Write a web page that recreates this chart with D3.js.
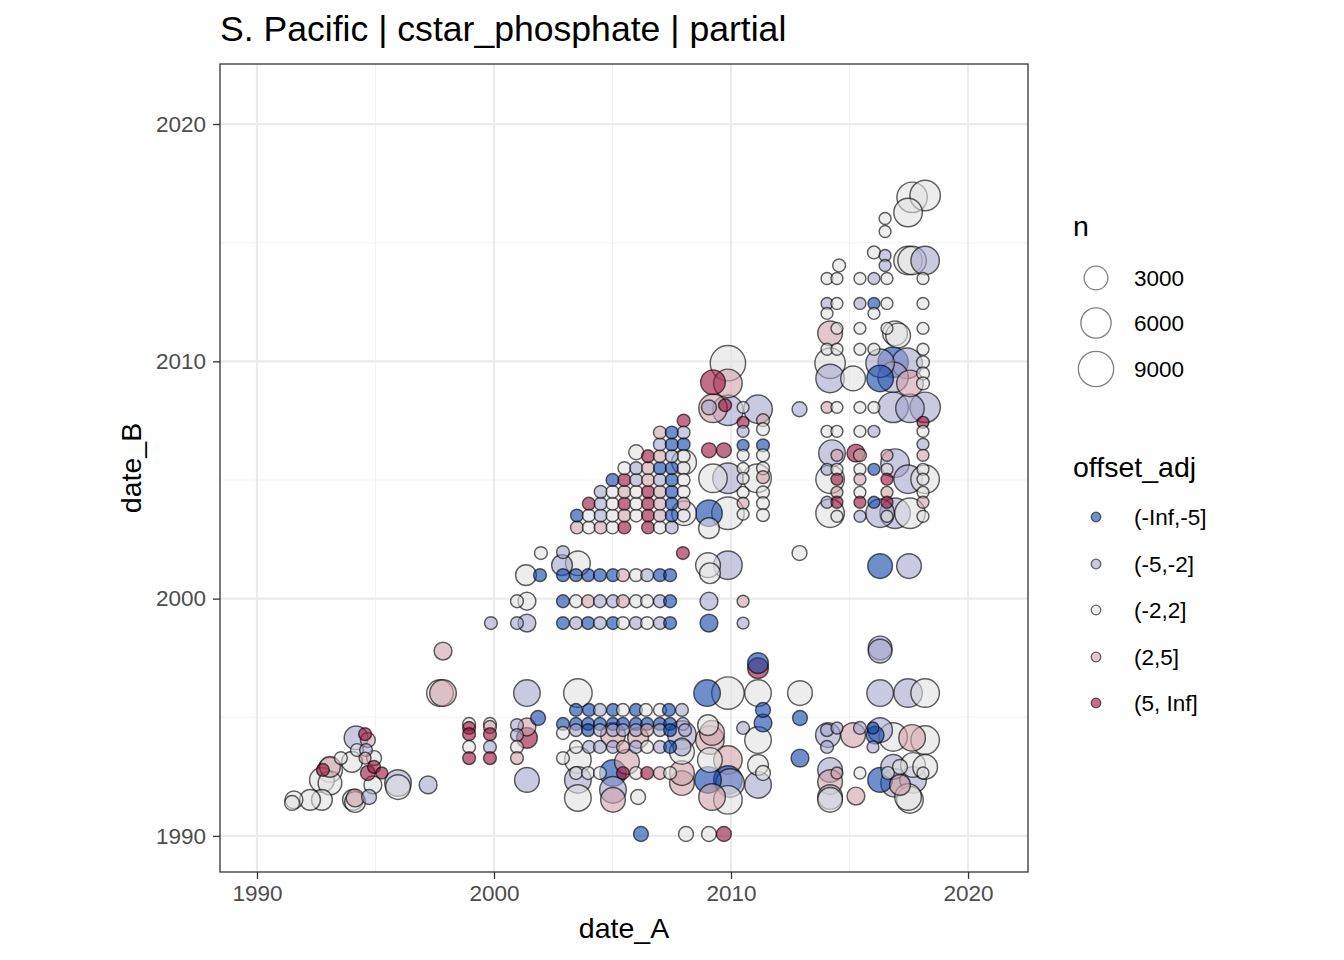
<!DOCTYPE html>
<html><head><meta charset="utf-8">
<script src="https://cdn.jsdelivr.net/npm/d3@7"></script>
<style>body{margin:0;background:#fff} text{font-family:"Liberation Sans",Arial,sans-serif}</style>
</head><body><svg id="c" width="1344" height="960"></svg>
<script>
const chartTitle = "S. Pacific | cstar_phosphate | partial";
const offsetLevels = ["(-Inf,-5]","(-5,-2]","(-2,2]","(2,5]","(5, Inf]"];
const offsetColors = ["#0f44aa","#a5a5cb","#e1e1e1","#cfa3aa","#99113c"];
const sizeBreaks = [3000, 6000, 9000];
const xTicks = [1990, 2000, 2010, 2020];
const yTicks = [1990, 2000, 2010, 2020];
const minorTicks = [1995, 2005, 2015];
// [date_A, date_B, n, offset level index]
const points = [
[1997.85,1997.79,1200,3],[1997.72,1996.02,4200,2],[1997.85,1996.02,4200,3],
[1998.95,1994.72,300,2],[1998.95,1994.55,300,4],[1998.95,1994.29,300,4],[1998.95,1993.75,300,2],[1998.95,1993.28,300,4],
[1999.83,1994.72,300,2],[1999.83,1994.59,300,3],[1999.83,1994.29,300,4],[1999.83,1993.75,300,1],[1999.83,1993.28,300,4],
[1994.18,1994.13,3000,1],[1994.56,1994.29,300,4],[1994.68,1994.04,600,3],[1994.22,1993.62,300,2],[1994.60,1993.62,300,1],
[1994.56,1993.28,200,3],[1994.94,1993.28,600,2],[1994.01,1993.12,2000,2],[1993.54,1993.28,300,2],[1993.08,1992.91,2000,3],
[1992.78,1992.78,300,4],[1993.08,1992.78,3400,2],[1992.74,1992.36,3400,2],[1993.08,1992.23,3000,2],[1994.68,1992.65,600,4],
[1994.94,1992.91,300,4],[1995.27,1992.65,200,4],[1994.89,1992.15,1200,2],[1995.95,1992.06,3400,2],[1995.95,1992.23,4200,1],
[1997.22,1992.15,1200,1],[1994.73,1991.64,600,1],[1994.14,1991.60,1200,3],[1994.05,1991.52,2000,2],[1994.14,1991.43,2000,2],
[1992.74,1991.52,2000,2],[1992.24,1991.52,2000,2],[1991.56,1991.52,1200,2],[1991.48,1991.39,600,2],
[2001.39,1996.02,4200,1],[2003.54,1996.02,5100,2],[2001.86,1994.97,600,0],
[2000.97,1994.67,300,1],[2001.39,1994.59,1200,3],[2001.39,1994.13,2000,4],[2000.97,1994.25,300,1],[2000.97,1993.75,300,2],[2000.97,1993.28,300,3],[2001.39,1992.36,3400,1],
[2003.46,1995.31,300,0],[2004.01,1995.31,300,0],[2004.47,1995.31,300,1],[2005.02,1995.31,300,0],[2005.44,1995.31,300,2],
[2005.99,1995.31,300,0],[2006.41,1995.31,300,2],[2007.00,1995.31,300,2],[2007.38,1995.31,300,0],[2007.93,1995.31,300,1],
[2002.91,1994.72,300,0],[2003.46,1994.72,300,0],[2003.97,1994.72,300,0],[2004.47,1994.72,300,0],[2005.02,1994.72,300,0],[2005.44,1994.72,300,0],
[2005.99,1994.72,300,0],[2006.46,1994.72,300,0],[2007.00,1994.72,300,0],[2007.43,1994.72,300,0],[2007.97,1994.72,300,1],
[2002.91,1994.34,300,2],[2003.46,1994.46,300,1],[2003.97,1994.46,300,0],[2004.47,1994.46,300,1],[2005.02,1994.46,300,1],[2005.44,1994.46,300,1],
[2005.99,1994.46,300,1],[2006.46,1994.46,300,3],[2007.00,1994.46,300,1],[2007.43,1994.46,300,0],[2008.06,1994.46,300,1],
[2005.02,1994.25,3400,3],[2006.08,1994.13,2000,3],[2007.93,1994.25,5100,1],[2009.11,1994.04,5100,3],
[2003.46,1993.75,300,2],[2004.01,1993.75,300,1],[2004.47,1993.75,300,1],[2005.02,1993.75,300,1],[2005.44,1993.75,300,3],
[2005.99,1993.75,300,1],[2006.46,1993.75,300,2],[2007.00,1993.75,300,1],[2007.43,1993.75,300,0],[2007.93,1993.75,1200,1],
[2002.91,1993.28,300,2],[2003.54,1993.20,4200,2],[2005.61,1993.12,3400,3],
[2003.46,1992.65,300,2],[2003.97,1992.65,300,2],[2004.47,1992.65,300,2],[2005.44,1992.65,300,4],[2005.99,1992.65,300,2],
[2006.46,1992.65,300,4],[2007.00,1992.65,300,3],[2007.43,1992.65,300,2],[2005.02,1992.65,4200,0],
[2003.54,1992.36,4200,1],[2003.54,1991.60,4200,2],[2005.02,1991.94,4200,1],[2005.02,1991.52,3400,3],[2006.08,1991.64,600,2],
[2007.93,1992.23,3400,3],[2007.93,1992.65,3400,3],[2007.93,1993.54,3400,2],
[2006.20,1990.08,600,0],[2008.10,1990.08,600,2],[2009.07,1990.08,600,2],[2009.70,1990.08,600,4],
[2008.99,1996.02,4200,0],
[2011.14,1997.07,2000,4],[2011.14,1997.28,2000,0],
[2009.87,1996.02,7200,2],[2011.14,1996.02,4200,2],[2012.91,1996.02,3400,2],
[2011.35,1995.31,600,0],[2011.35,1994.76,1200,0],[2012.91,1994.97,600,0],[2010.51,1994.55,300,1],[2011.14,1994.04,4200,2],
[2009.03,1994.67,2000,2],[2009.20,1994.34,3400,3],
[2011.14,1992.99,2000,2],[2011.35,1992.65,600,2],[2011.14,1992.15,4200,1],
[2009.11,1993.20,3400,2],[2009.87,1993.20,5100,3],
[2009.03,1992.36,4200,0],[2009.87,1992.36,5100,0],[2009.96,1992.23,5100,1],
[2009.20,1991.64,4200,3],[2009.87,1991.52,5100,2],
[2012.91,1993.28,1200,0],
[2014.09,1994.25,3400,1],[2014.05,1994.46,300,1],[2014.47,1994.55,200,1],[2014.05,1993.75,300,1],[2015.15,1994.25,3400,3],[2015.44,1994.55,300,1],
[2014.18,1992.78,3400,1],[2014.47,1992.65,200,3],[2014.18,1992.27,3400,3],[2014.18,1991.64,3400,1],[2014.18,1991.52,3400,2],
[2015.44,1992.65,200,2],[2015.27,1991.68,1200,3],
[2016.29,1997.92,3000,1],[2016.29,1997.79,3000,1],
[2016.29,1996.02,4200,1],[2017.47,1996.02,5100,1],[2018.19,1996.02,5100,2],
[2015.99,1994.55,200,0],[2016.29,1994.46,3400,1],[2016.08,1994.25,1200,0],[2016.84,1994.17,5100,2],[2017.64,1994.13,4200,3],[2018.19,1994.04,5100,2],[2015.99,1993.75,200,1],
[2016.29,1992.36,3400,0],[2016.84,1992.91,3400,1],[2017.13,1992.91,600,2],[2017.68,1992.99,3400,2],[2018.19,1992.91,3400,2],[2016.62,1992.65,300,2],[2018.10,1992.65,200,2],
[2016.92,1992.23,5100,1],[2017.13,1992.15,2000,3],[2017.68,1992.36,4200,1],
[2017.55,1991.52,4200,2],[2017.47,1991.64,4200,2],
[2001.98,2001.92,300,2],[2002.91,2001.96,300,1],[2007.97,2001.92,300,4],
[2002.87,2001.41,2000,1],[2003.54,2001.49,3400,2],
[2001.35,2000.99,2000,2],[2001.94,2000.99,300,0],[2002.91,2000.99,300,0],[2003.46,2000.99,300,0],[2003.97,2000.99,300,0],[2004.47,2000.99,300,0],
[2005.02,2000.99,300,0],[2005.44,2000.99,300,3],[2005.99,2000.99,300,2],[2006.46,2000.99,300,1],[2007.00,2000.99,300,0],[2007.43,2000.99,300,0],
[2000.97,1999.89,300,2],[2001.39,1999.89,1200,2],[2002.91,1999.89,300,0],[2003.46,1999.89,300,2],[2003.97,1999.89,300,3],[2004.47,1999.89,300,1],
[2005.02,1999.89,300,1],[2005.44,1999.89,300,3],[2005.99,1999.89,300,2],[2006.46,1999.89,300,2],[2007.00,1999.89,300,1],[2007.43,1999.89,300,0],
[1999.87,1998.97,300,1],[2000.97,1998.97,300,1],[2001.39,1998.97,1200,1],[2002.91,1998.97,300,0],[2003.46,1998.97,300,1],[2003.97,1998.97,300,0],
[2004.47,1998.97,300,1],[2005.02,1998.97,300,0],[2005.44,1998.97,300,2],[2005.99,1998.97,300,1],[2006.46,1998.97,300,2],[2007.00,1998.97,300,1],[2007.43,1998.97,300,0],
[2009.03,2001.41,3400,2],[2009.87,2001.41,5100,1],[2009.11,2001.07,2000,2],
[2009.07,1999.89,1200,1],[2009.07,1998.97,1200,0],[2010.51,1999.89,200,3],[2010.51,1998.97,200,1],
[2012.89,2001.92,600,2],
[2009.87,2009.92,9000,2],[2009.24,2009.12,3400,4],[2009.87,2009.07,5100,3],
[2009.24,2008.02,5100,3],[2009.07,2008.06,600,1],[2009.87,2007.94,6100,1],[2009.75,2008.15,300,4],
[2011.14,2007.98,5100,1],[2012.89,2007.98,600,1],
[2010.51,2008.06,200,2],[2010.51,2007.43,200,4],[2010.51,2007.05,200,1],[2010.51,2006.46,200,0],[2010.51,2006.04,200,2],
[2010.51,2005.49,200,2],[2010.51,2005.07,200,2],[2010.51,2004.48,200,2],[2010.51,2004.02,200,3],[2010.51,2003.56,200,2],
[2011.35,2007.52,300,3],[2011.35,2007.14,300,2],[2011.35,2006.46,300,0],[2011.35,2006.04,300,2],[2011.35,2005.49,300,2],
[2011.35,2005.12,300,3],[2011.35,2004.48,300,2],[2011.35,2004.02,300,2],[2011.35,2003.52,300,2],
[2009.07,2006.25,600,4],[2009.70,2006.25,600,4],
[2009.24,2005.07,5100,2],[2009.87,2005.07,6100,1],[2011.10,2005.07,5100,2],
[2009.07,2003.60,4200,0],[2009.87,2003.60,7200,2],[2009.07,2002.97,2000,2],
[2008.0,2007.5,300,4],[2008.0,2007.0,300,1],[2008.0,2006.5,300,0],[2008.0,2006.0,300,2],[2008.0,2005.5,300,2],
[2008.0,2005.0,300,2],[2008.0,2004.5,300,2],[2008.0,2004.0,300,3],[2008.0,2003.5,300,2],
[2008.02,2003.60,3400,2],[2008.02,2005.75,3400,2],
[2003.5,2003.0,300,3],[2004.0,2003.0,300,2],[2004.5,2003.0,300,3],[2005.0,2003.0,300,2],[2005.5,2003.0,300,4],[2006.5,2003.0,300,4],[2007.0,2003.0,300,2],[2007.5,2003.0,300,1],
[2003.5,2003.5,300,0],[2004.0,2003.5,300,2],[2004.5,2003.5,300,1],[2005.0,2003.5,300,2],[2005.5,2003.5,300,3],[2006.0,2003.5,300,2],[2006.5,2003.5,300,4],[2007.0,2003.5,300,3],[2007.5,2003.5,300,0],
[2004.0,2004.0,300,4],[2004.5,2004.0,300,1],[2005.0,2004.0,300,2],[2005.5,2004.0,300,4],[2006.0,2004.0,300,2],[2006.5,2004.0,300,4],[2007.0,2004.0,300,3],[2007.5,2004.0,300,0],
[2004.5,2004.5,300,1],[2005.0,2004.5,300,2],[2005.5,2004.5,300,3],[2006.0,2004.5,300,2],[2006.5,2004.5,300,4],[2007.0,2004.5,300,3],[2007.5,2004.5,300,0],
[2005.0,2005.0,300,0],[2005.5,2005.0,300,4],[2006.0,2005.0,300,1],[2006.5,2005.0,300,3],[2007.0,2005.0,300,1],[2007.5,2005.0,300,0],
[2005.5,2005.5,300,2],[2006.0,2005.5,300,1],[2006.5,2005.5,300,3],[2007.0,2005.5,300,0],[2007.5,2005.5,300,0],
[2006.0,2006.17,600,2],[2006.5,2006.0,300,4],[2007.0,2006.0,300,3],[2007.5,2006.0,300,1],
[2007.0,2006.5,300,1],[2007.5,2006.5,300,0],
[2007.0,2007.0,300,3],[2007.5,2007.0,300,0],
[2017.64,2016.91,6100,2],[2018.19,2016.99,6100,2],[2017.47,2016.27,5100,2],
[2016.50,2016.02,200,2],[2016.50,2015.47,200,2],
[2016.03,2014.59,300,2],[2016.50,2014.46,200,1],[2016.50,2014.04,200,1],
[2017.47,2014.25,5100,2],[2017.64,2014.25,5100,2],[2018.19,2014.25,5100,1],
[2014.56,2014.04,300,2],
[2014.05,2013.49,200,2],[2014.47,2013.49,200,2],[2015.44,2013.49,200,2],[2016.03,2013.49,200,1],[2016.58,2013.49,200,2],[2018.10,2013.49,200,2],
[2014.05,2012.44,200,1],[2014.47,2012.44,200,2],[2015.44,2012.44,200,1],[2016.03,2012.44,200,0],[2016.58,2012.44,200,2],[2018.10,2012.44,200,2],
[2014.05,2012.02,200,2],[2016.03,2012.02,200,2],
[2014.18,2011.18,3400,3],
[2014.47,2011.39,200,2],[2015.44,2011.39,200,2],[2016.58,2011.39,200,2],[2018.10,2011.39,200,2],
[2016.92,2011.18,3400,2],[2017.05,2011.09,3400,2],
[2014.05,2010.51,200,2],[2014.47,2010.51,200,2],[2015.44,2010.51,200,2],[2016.03,2010.51,200,2],[2018.10,2010.51,200,2],
[2014.18,2009.92,6100,2],[2014.18,2009.28,5100,1],[2015.15,2009.28,3400,2],
[2016.29,2009.92,5100,1],[2016.84,2009.96,6100,0],[2017.43,2009.92,6100,1],[2016.29,2009.28,4200,0],[2016.84,2009.33,6100,1],[2017.55,2009.07,4200,3],
[2018.10,2009.96,300,2],[2018.10,2009.49,300,2],[2018.10,2009.07,300,2],
[2014.05,2008.06,200,3],[2014.47,2008.06,200,2],[2015.44,2008.06,200,2],[2016.03,2008.06,200,2],
[2016.84,2008.06,6100,1],[2017.55,2008.02,5100,1],[2018.19,2008.06,6100,1],[2018.10,2007.43,200,4],
[2014.05,2007.05,200,2],[2014.47,2007.05,200,2],[2015.44,2007.05,200,2],[2016.03,2007.05,200,1],[2018.10,2007.05,200,2],
[2018.10,2006.51,200,1],
[2014.26,2006.13,4200,1],[2014.47,2006.04,200,3],[2015.27,2006.13,1200,4],[2015.44,2006.04,300,3],[2016.58,2006.04,200,3],[2016.92,2005.71,5100,1],[2018.10,2006.04,200,3],
[2014.05,2005.45,200,1],[2014.47,2005.45,200,2],[2015.44,2005.45,200,2],[2016.03,2005.45,200,0],[2016.58,2005.45,200,2],[2018.10,2005.45,200,2],
[2014.18,2005.03,5100,2],[2014.47,2005.03,200,4],[2015.44,2005.03,200,3],[2016.58,2005.03,200,4],[2017.47,2005.03,5100,1],[2018.19,2005.03,5100,2],[2018.10,2005.03,200,2],
[2014.47,2004.48,200,3],[2015.44,2004.48,200,2],[2016.58,2004.48,200,3],[2018.10,2004.48,200,2],
[2014.05,2004.06,200,1],[2014.47,2004.06,200,4],[2015.44,2004.06,200,4],[2016.03,2004.06,200,0],[2016.58,2004.06,200,4],[2018.10,2004.06,200,3],
[2014.18,2003.60,5100,2],[2016.29,2003.60,5100,1],[2016.92,2003.60,6100,1],[2017.55,2003.60,6100,2],
[2014.47,2003.47,200,2],[2015.44,2003.47,200,1],[2016.58,2003.47,200,2],[2018.10,2003.47,200,2],
[2016.29,2001.37,3400,0],[2017.51,2001.37,3400,1]
];

const svg = d3.select("#c");
const P = {l:220, r:1028, t:64, b:872};
const x = d3.scaleLinear().domain([1988.44, 2022.53]).range([P.l, P.r]);
const y = d3.scaleLinear().domain([1988.48, 2022.53]).range([P.b, P.t]);
const rScale = d3.scaleSqrt().domain([0, 10000]).range([3.9, 18.4]);
const col = d3.scaleOrdinal().domain(d3.range(offsetLevels.length)).range(offsetColors);

// grid
const g = svg.append("g");
g.selectAll(".mx").data(minorTicks).join("line").attr("x1", d=>x(d)).attr("x2", d=>x(d)).attr("y1", P.t).attr("y2", P.b).attr("stroke","#f3f3f3").attr("stroke-width",1.1);
g.selectAll(".my").data(minorTicks).join("line").attr("y1", d=>y(d)).attr("y2", d=>y(d)).attr("x1", P.l).attr("x2", P.r).attr("stroke","#f3f3f3").attr("stroke-width",1.1);
g.selectAll(".Mx").data(xTicks).join("line").attr("x1", d=>x(d)).attr("x2", d=>x(d)).attr("y1", P.t).attr("y2", P.b).attr("stroke","#ebebeb").attr("stroke-width",2.2);
g.selectAll(".My").data(yTicks).join("line").attr("y1", d=>y(d)).attr("y2", d=>y(d)).attr("x1", P.l).attr("x2", P.r).attr("stroke","#ebebeb").attr("stroke-width",2.2);

// points
const data = points.map(p => ({a:p[0], b:p[1], n:p[2], k:p[3]}));
const sorted = data.slice().sort((u,v) => v.n - u.n);
svg.append("g").selectAll("circle").data(sorted).join("circle")
  .attr("cx", d=>x(d.a)).attr("cy", d=>y(d.b)).attr("r", d=>rScale(d.n))
  .attr("fill", d=>col(d.k)).attr("fill-opacity", 0.6)
  .attr("stroke", "#000").attr("stroke-opacity", 0.62).attr("stroke-width", 1.45);

// panel border
svg.append("rect").attr("x", P.l).attr("y", P.t).attr("width", P.r-P.l).attr("height", P.b-P.t)
  .attr("fill","none").attr("stroke","#333").attr("stroke-width",1.3);

// axes
const ax = svg.append("g").attr("transform", `translate(0,${P.b})`)
  .call(d3.axisBottom(x).tickValues(xTicks).tickFormat(d3.format("d")).tickSize(7).tickPadding(6));
const ay = svg.append("g").attr("transform", `translate(${P.l},0)`)
  .call(d3.axisLeft(y).tickValues(yTicks).tickFormat(d3.format("d")).tickSize(7).tickPadding(7));
[ax, ay].forEach(a => {
  a.select(".domain").remove();
  a.selectAll(".tick line").attr("stroke","#333").attr("stroke-width",1.3);
  a.selectAll(".tick text").attr("fill","#4d4d4d").style("font-size","22.5px").style("font-family","'Liberation Sans',Arial,sans-serif");
});

svg.append("text").attr("x", (P.l+P.r)/2).attr("y", 938).attr("text-anchor","middle").style("font-size","28.5px").attr("fill","#000").text("date_A");
svg.append("text").attr("transform", `translate(141,${(P.t+P.b)/2}) rotate(-90)`).attr("text-anchor","middle").style("font-size","28.5px").attr("fill","#000").text("date_B");
svg.append("text").attr("x", 220).attr("y", 41).style("font-size","35.6px").attr("fill","#000").text(chartTitle);

// legend: size
const lg = svg.append("g");
lg.append("text").attr("x",1073).attr("y",236).style("font-size","28.5px").text("n");
const sizeY = [278, 323, 369];
sizeBreaks.forEach((s,i) => {
  lg.append("circle").attr("cx",1096).attr("cy",sizeY[i]).attr("r",rScale(s)).attr("fill","none").attr("stroke","#000").attr("stroke-opacity",0.5).attr("stroke-width",1.3);
  lg.append("text").attr("x",1134).attr("y",sizeY[i]+8).style("font-size","22.5px").text(d3.format("d")(s));
});
// legend: colour
lg.append("text").attr("x",1073).attr("y",477).style("font-size","28.5px").text("offset_adj");
const colY = [517, 564, 610, 657, 703];
offsetLevels.forEach((lab,i) => {
  lg.append("circle").attr("cx",1096).attr("cy",colY[i]).attr("r",4.8).attr("fill",col(i)).attr("fill-opacity",0.6).attr("stroke","#000").attr("stroke-opacity",0.6).attr("stroke-width",1.3);
  lg.append("text").attr("x",1134).attr("y",colY[i]+8).style("font-size","22.5px").text(lab);
});
</script></body></html>
